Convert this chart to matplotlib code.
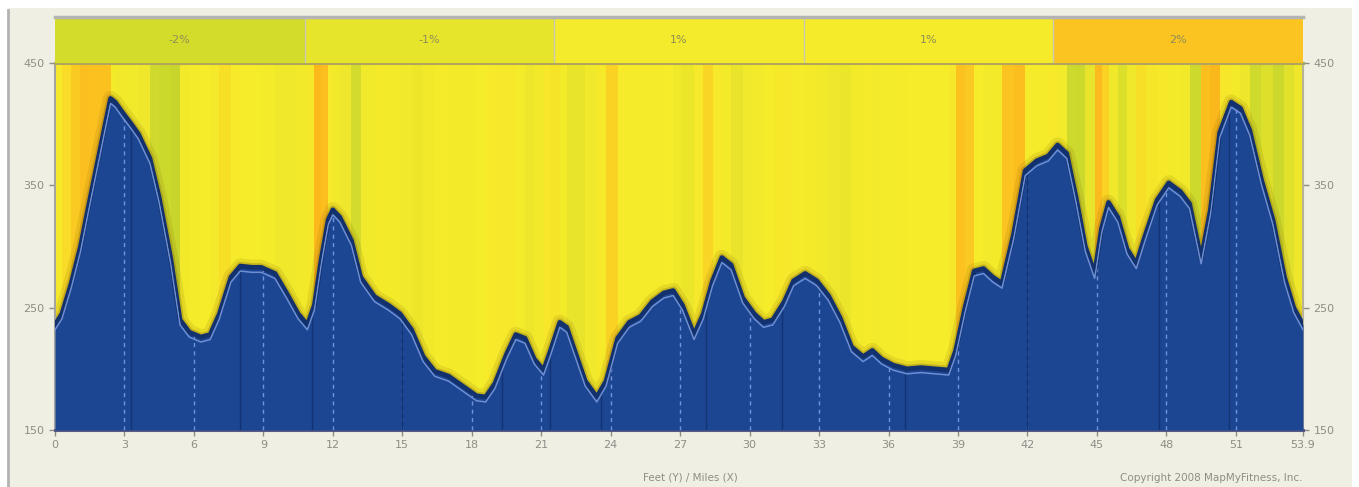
import numpy as np
import matplotlib
matplotlib.use("Agg")
import matplotlib.pyplot as plt
from matplotlib.colors import LinearSegmentedColormap, Normalize
from matplotlib.patches import Rectangle
from matplotlib.transforms import offset_copy

# elevation profile (miles, feet)
miles = [0, 0.3, 0.7, 1.1, 1.5, 1.9, 2.2, 2.4, 2.6, 2.9,
         3.3, 3.6, 4.1, 4.5, 5.0, 5.4, 5.8, 6.3, 6.7, 7.1,
         7.6, 8.0, 8.5, 8.9, 9.5, 10.0, 10.5, 10.9, 11.2, 11.5,
         11.8, 12.0, 12.3, 12.8, 13.2, 13.8, 14.4, 14.9, 15.4, 15.9,
         16.4, 17.0, 17.6, 18.2, 18.6, 19.0, 19.5, 19.9, 20.3, 20.7,
         21.1, 21.4, 21.8, 22.1, 22.5, 22.9, 23.4, 23.8, 24.3, 24.8,
         25.3, 25.8, 26.3, 26.7, 27.1, 27.6, 28.0, 28.4, 28.8, 29.2,
         29.7, 30.2, 30.6, 31.0, 31.5, 31.9, 32.4, 32.9, 33.4, 33.9,
         34.4, 34.9, 35.3, 35.7, 36.2, 36.8, 37.4, 38.0, 38.6, 38.9,
         39.3, 39.7, 40.1, 40.5, 40.9, 41.4, 41.9, 42.4, 42.9, 43.3,
         43.7, 44.1, 44.5, 44.9, 45.2, 45.5, 45.9, 46.3, 46.7, 47.1,
         47.6, 48.1, 48.6, 49.0, 49.5, 49.9, 50.3, 50.8, 51.2, 51.6,
         52.1, 52.6, 53.1, 53.5, 53.9]
elev = [236, 245, 270, 300, 338, 375, 403, 421, 418, 410,
        400, 392, 372, 340, 290, 240, 230, 226, 228, 245,
        275, 284, 283, 283, 278, 262, 245, 236, 252, 290,
        322, 330, 324, 305, 275, 259, 252, 245, 232, 210,
        198, 194, 186, 178, 177, 188, 212, 228, 225, 208,
        199, 215, 238, 234, 212, 190, 177, 190, 225, 238,
        243, 255, 262, 264, 252, 228, 245, 272, 291, 285,
        258, 245, 238, 240, 255, 272, 278, 272, 260, 242,
        218, 210, 215, 208, 203, 200, 201, 200, 199, 215,
        250, 280, 282, 275, 270, 310, 362, 370, 374, 383,
        376, 340, 300, 278, 315, 336, 324, 298, 286, 310,
        338, 352, 345, 335, 290, 330, 393, 418, 413, 395,
        355, 322, 275, 250, 236]

# top band: grade per fifth of the route
band_labels = ["-2%", "-1%", "1%", "1%", "2%"]
band_colors = ["#d3dc2b", "#e7e52b", "#f3eb2b", "#f5eb2b", "#fbc421"]

x_ticks = [0, 3, 6, 9, 12, 15, 18, 21, 24, 27, 30, 33, 36, 39, 42, 45, 48, 51, 53.9]
x_tick_labels = ["0", "3", "6", "9", "12", "15", "18", "21", "24", "27", "30",
                 "33", "36", "39", "42", "45", "48", "51", "53.9"]
y_ticks = [150, 250, 350, 450]
marker_miles = [3.3, 8.0, 11.1, 15.0, 19.3, 21.4, 23.6, 28.1, 31.4, 36.7,
                42.0, 47.7, 50.7]

FONT = ["Liberation Sans Narrow", "DejaVu Sans"]
GREY = "#8e8e88"

W, H = 1359, 487
fig = plt.figure(figsize=(W / 100, H / 100), dpi=100, facecolor="white")
fig.add_artist(Rectangle((8 / W, 0), (1352 - 8) / W, (H - 8) / H,
                         transform=fig.transFigure, facecolor="#efefe3",
                         edgecolor="none", zorder=-10))
fig.add_artist(plt.Line2D([8 / W, 8 / W], [0, (H - 10) / H], transform=fig.transFigure,
                          color="#b3b3b3", lw=2, zorder=-9))

left, right = 55 / W, 1303 / W
ax = fig.add_axes([left, 1 - 430 / H, right - left, (430 - 63) / H])
band = fig.add_axes([left, 1 - 63 / H, right - left, (63 - 17) / H])

x = np.array(miles)
y = np.array(elev)
xmax = x_ticks[-1]

# grade coloured stripes behind the profile
cmap = LinearSegmentedColormap.from_list(
    "grade", [(0, "#c6d42c"), (0.2, "#cfda2c"), (0.3, "#ebe52b"), (0.5, "#f6ec2a"),
              (0.71, "#f6e72a"), (0.8, "#fbc420"), (1, "#fbb81c")])
norm = Normalize(-2.5, 2.5)
grade = np.diff(y) / (np.diff(x) * 5280) * 100
for x0, x1, g in zip(x[:-1], x[1:], grade):
    ax.axvspan(x0, x1, color=cmap(norm(g)), lw=0, zorder=1)

# soft shadow along the top of the profile
ax.plot(x, y, color="#7a5000", lw=11, alpha=0.12, zorder=2, solid_joinstyle="round")
ax.plot(x, y, color="#6a4a08", lw=6, alpha=0.25, zorder=2, solid_joinstyle="round")

fill = ax.fill_between(x, 150, y, color="#1c4592", lw=0, zorder=3)
clip = fill.get_paths()[0]

for m in x_ticks[1:-1]:
    ln = ax.axvline(m, color="#7093dc", lw=1, dashes=(3, 3), zorder=4)
    ln.set_clip_path(clip, ax.transData)
for m in marker_miles:
    ln = ax.axvline(m, color="#143372", lw=1, zorder=4)
    ln.set_clip_path(clip, ax.transData)

ax.plot(x, y, color="#13316c", lw=3.4, zorder=5, solid_joinstyle="round")
light = offset_copy(ax.transData, fig=fig, x=0, y=-5, units="dots")
ln, = ax.plot(x, y, color="#6d8fd4", lw=1.1, zorder=5, transform=light)
ln.set_clip_path(clip, ax.transData)

ax.set_xlim(0, xmax)
ax.set_ylim(150, 450)
ax.set_xticks(x_ticks)
ax.set_xticklabels(x_tick_labels)
ax.set_yticks(y_ticks)
ax.tick_params(axis="both", colors=GREY, labelsize=8, length=4, width=1,
               labelcolor=GREY, right=True, labelright=True)
for lab in ax.get_xticklabels() + ax.get_yticklabels():
    lab.set_family(FONT)
ax.spines["left"].set_color("#a5a5a0")
ax.spines["left"].set_linewidth(1.5)
ax.spines["right"].set_color("#b7b394")
ax.spines["right"].set_linewidth(1.5)
ax.spines["bottom"].set_color("#575b86")
ax.spines["bottom"].set_linewidth(2.2)
ax.spines["top"].set_color("#b2a65a")
ax.spines["top"].set_linewidth(2.2)

# top band
seg = xmax / len(band_labels)
for i, (lab, col) in enumerate(zip(band_labels, band_colors)):
    band.axvspan(i * seg, (i + 1) * seg, color=col, lw=0)
    if i:
        band.axvline(i * seg, color="#c9c9b0", lw=1)
    band.text((i + 0.5) * seg, 0.5, lab, ha="center", va="center", fontsize=8,
              color="#8f8c58", family=FONT)
band.set_xlim(0, xmax)
band.set_ylim(0, 1)
band.set_xticks([])
band.set_yticks([])
for s in ["left", "right", "bottom"]:
    band.spines[s].set_visible(False)
band.spines["top"].set_color("#b4b4b4")
band.spines["top"].set_linewidth(2.5)

fig.text(690 / W, 1 - 478 / H, "Feet (Y) / Miles (X)", ha="center", va="center",
         fontsize=7.5, color=GREY, family=FONT)
fig.text(1303 / W, 1 - 478 / H, "Copyright 2008 MapMyFitness, Inc.", ha="right",
         va="center", fontsize=7.5, color=GREY, family=FONT)

fig.savefig("out.png", dpi=100, facecolor=fig.get_facecolor())
